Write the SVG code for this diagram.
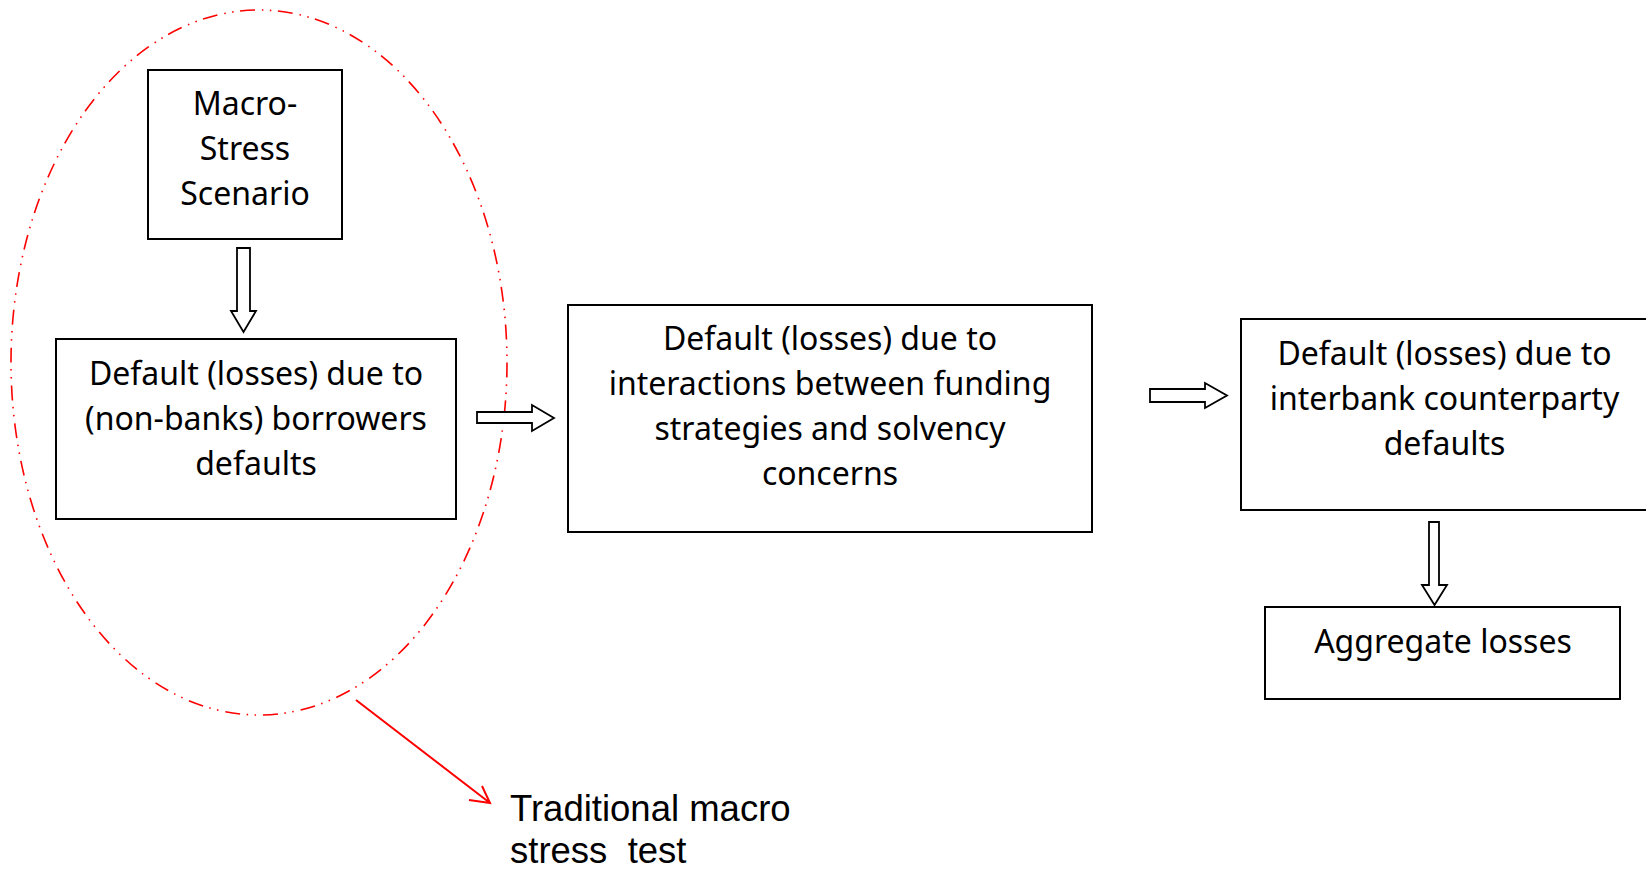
<svg xmlns="http://www.w3.org/2000/svg" width="1646" height="869" viewBox="0 0 1646 869">
<style>
.box{fill:#fff;stroke:#000;stroke-width:2}
.t{font-family:"Noto Sans","Open Sans",sans-serif;font-size:32px;fill:#000;text-anchor:middle}
.ba{fill:#fff;stroke:#000;stroke-width:1.8;stroke-linejoin:miter}
.red{fill:none;stroke:#ff0000;stroke-width:2}
.lbl{font-family:"Liberation Sans",Arial,sans-serif;font-size:36.5px;fill:#000;white-space:pre}
</style>
<rect width="1646" height="869" fill="#fff"/>
<g id="n-macro">
<rect class="box" x="148" y="70" width="194" height="169"/>
<text class="t" x="245" y="115">Macro-</text>
<text class="t" x="245" y="160">Stress</text>
<text class="t" x="245" y="205">Scenario</text>
</g>
<g id="n-borrowers">
<rect class="box" x="56" y="339" width="400" height="180"/>
<text class="t" x="256" y="385">Default (losses) due to</text>
<text class="t" x="256" y="430">(non-banks) borrowers</text>
<text class="t" x="256" y="475">defaults</text>
</g>
<g id="n-funding">
<rect class="box" x="568" y="305" width="524" height="227"/>
<text class="t" x="830" y="350">Default (losses) due to</text>
<text class="t" x="830" y="395">interactions between funding</text>
<text class="t" x="830" y="440">strategies and solvency</text>
<text class="t" x="830" y="485">concerns</text>
</g>
<g id="n-interbank">
<rect class="box" x="1241" y="319" width="410" height="191"/>
<text class="t" x="1444.5" y="365">Default (losses) due to</text>
<text class="t" x="1444.5" y="410">interbank counterparty</text>
<text class="t" x="1444.5" y="455">defaults</text>
</g>
<g id="n-aggregate">
<rect class="box" x="1265" y="607" width="355" height="92"/>
<text class="t" x="1443" y="653">Aggregate losses</text>
</g>
<g id="n-traditional">
<ellipse cx="259" cy="362.5" rx="248" ry="352.5" fill="none" stroke="#ff0000" stroke-width="1.6" stroke-dasharray="15 7 1.5 6.5 1.5 6.5"/>
<text class="lbl" x="510" y="821">Traditional macro</text>
<text class="lbl" x="510" y="863">stress  test</text>
</g>
<g id="connectors">
<polygon class="ba" points="237,248 250,248 250,311 256,311 243.5,332 231,311 237,311"/>
<polygon class="ba" points="477,412 532,412 532,405 554,418 532,431 532,423 477,423"/>
<polygon class="ba" points="1150,389 1205,389 1205,383 1227,395.5 1205,408 1205,402 1150,402"/>
<polygon class="ba" points="1429,522 1439,522 1439,585 1447,585 1434.5,605 1422,585 1429,585"/>
<path class="red" d="M356,700 L490,803 M469,800 L490,803 L482,786"/>
</g>
</svg>
